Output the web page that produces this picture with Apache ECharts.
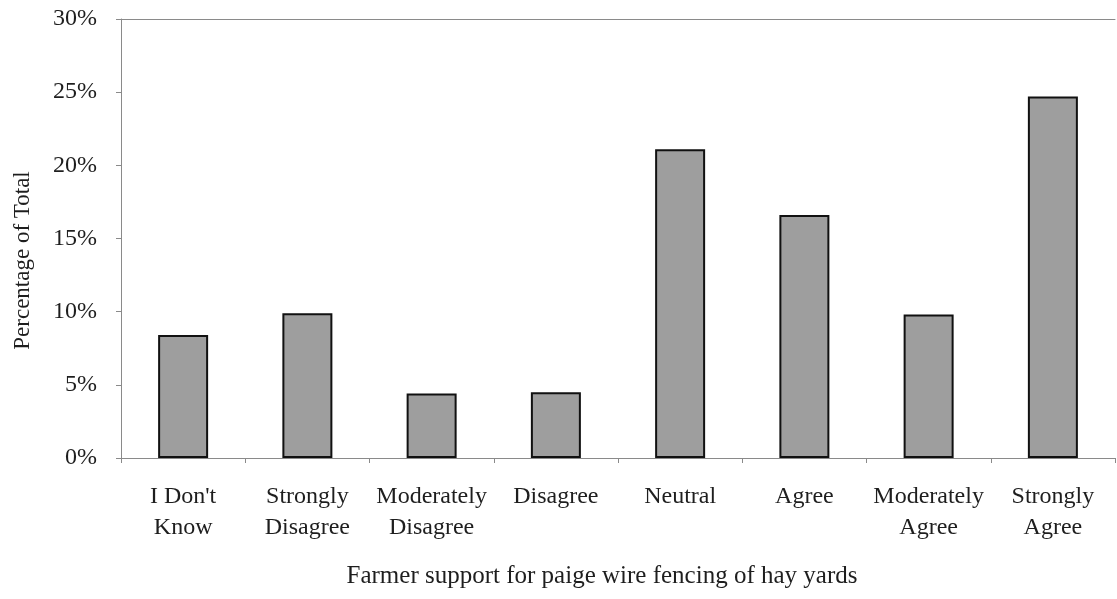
<!DOCTYPE html>
<html>
<head>
<meta charset="utf-8">
<script src="https://cdn.jsdelivr.net/npm/echarts@6/dist/echarts.min.js"></script>
<style>
  html, body { margin: 0; padding: 0; background: #fff; }
  #chart { width: 1117px; height: 599px; }
</style>
</head>
<body>
<div id="chart"></div>
<script>
// Survey responses: share of farmers in each support category
const categories = [
  "I Don't\nKnow", "Strongly\nDisagree", "Moderately\nDisagree", "Disagree",
  "Neutral", "Agree", "Moderately\nAgree", "Strongly\nAgree"
];
const percentages = [8.4, 9.9, 4.4, 4.5, 21.1, 16.6, 9.8, 24.7];
const yTicks = { min: 0, max: 30, step: 5 };
const xTitle = 'Farmer support for paige wire fencing of hay yards';
const yTitle = 'Percentage of Total';

const FONT = '"Liberation Serif", "DejaVu Serif", serif';
const AXIS_GREY = '#8a8a8a';
const TEXT = '#1e1e1e';

const chart = echarts.init(document.getElementById('chart'), null, { renderer: 'canvas' });
chart.setOption({
  animation: false,
  backgroundColor: '#ffffff',
  grid: { left: 121, right: 2, top: 19, bottom: 141, containLabel: false, outerBoundsMode: 'none' },
  xAxis: [{
    type: 'category',
    data: categories,
    boundaryGap: true,
    axisLine: { show: true, lineStyle: { color: AXIS_GREY, width: 1 } },
    axisTick: { show: true, alignWithLabel: false, length: 5, lineStyle: { color: AXIS_GREY } },
    axisLabel: {
      color: TEXT, fontFamily: FONT, fontSize: 24, lineHeight: 31, margin: 23,
      interval: 0
    },
    name: xTitle,
    nameLocation: 'middle',
    nameGap: 106,
    nameTextStyle: { color: TEXT, fontFamily: FONT, fontSize: 25, padding: [0, 32, 0, 0] }
  }, {
    // top frame line of the plot area
    type: 'category',
    position: 'top',
    data: categories,
    axisLine: { show: true, lineStyle: { color: AXIS_GREY, width: 1 } },
    axisTick: { show: false },
    axisLabel: { show: false }
  }],
  yAxis: {
    type: 'value',
    min: yTicks.min,
    max: yTicks.max,
    interval: yTicks.step,
    axisLine: { show: true, lineStyle: { color: AXIS_GREY, width: 1 } },
    axisTick: { show: true, length: 5, lineStyle: { color: AXIS_GREY } },
    splitLine: { show: false },
    axisLabel: {
      color: TEXT, fontFamily: FONT, fontSize: 24, margin: 24,
      formatter: v => v + '%'
    },
    name: yTitle,
    nameLocation: 'middle',
    nameGap: 87,
    nameRotate: 90,
    nameTextStyle: { color: TEXT, fontFamily: FONT, fontSize: 23, padding: [0, 44, 0, 0] }
  },
  series: [{
    type: 'bar',
    data: percentages,
    barWidth: 50,
    itemStyle: { color: '#9e9e9e', borderColor: '#111', borderWidth: 2 },
    label: { show: false }
  }]
});
</script>
</body>
</html>
